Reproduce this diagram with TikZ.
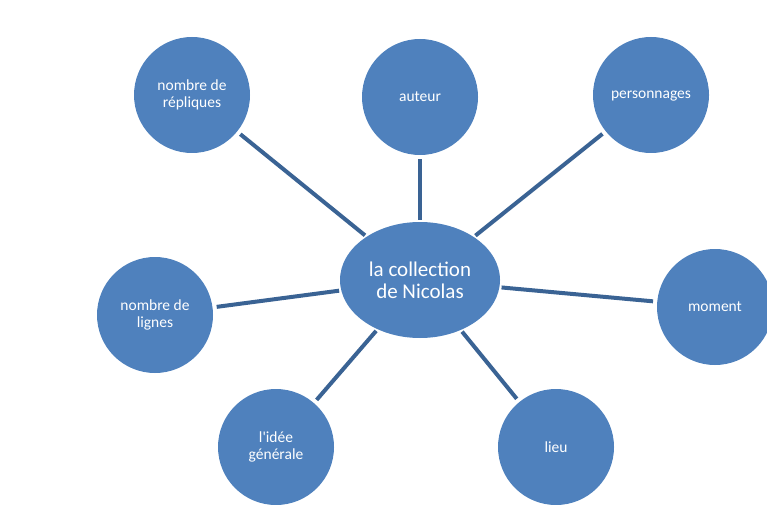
\documentclass[tikz,border=0pt]{standalone}
\usepackage{fontspec}
\setmainfont{Carlito}
\usetikzlibrary{shapes.geometric}
\definecolor{bubble}{HTML}{4F81BD}
\definecolor{spoke}{HTML}{3A6394}

\begin{document}
\begin{tikzpicture}[x=1pt,y=-1pt,
  topic/.style={circle,fill=bubble,text=white,minimum size=116pt,inner sep=0pt,align=center,font=\fontsize{15.5}{17}\selectfont},
  hub/.style={ellipse,fill=bubble,text=white,minimum width=160pt,minimum height=116pt,inner sep=0pt,align=center,font=\fontsize{21}{22}\selectfont},
  link/.style={spoke,line width=4pt,shorten <=2pt,shorten >=4pt}]
\useasboundingbox (0,0) rectangle (767,505);

\node [hub] (hub) at (420,280) {la collection\\de Nicolas};

\node [topic] (repliques) at (192,95) {nombre de\\répliques};
\node [topic] (auteur) at (420,97) {auteur};
\node [topic] (personnages) at (651,95) {\strut personnages};
\node [topic] (moment) at (715,307) {moment};
\node [topic] (lieu) at (556,447) {lieu};
\node [topic] (idee) at (276,447) {l\textquotesingle idée\\générale};
\node [topic] (lignes) at (155,315) {nombre de\\lignes};

\draw [link] (hub) -- (repliques);
\draw [link] (hub) -- (auteur);
\draw [link] (hub) -- (personnages);
\draw [link] (hub) -- (moment);
\draw [link] (hub) -- (lieu);
\draw [link] (hub) -- (idee);
\draw [link] (hub) -- (lignes);
\end{tikzpicture}
\end{document}
